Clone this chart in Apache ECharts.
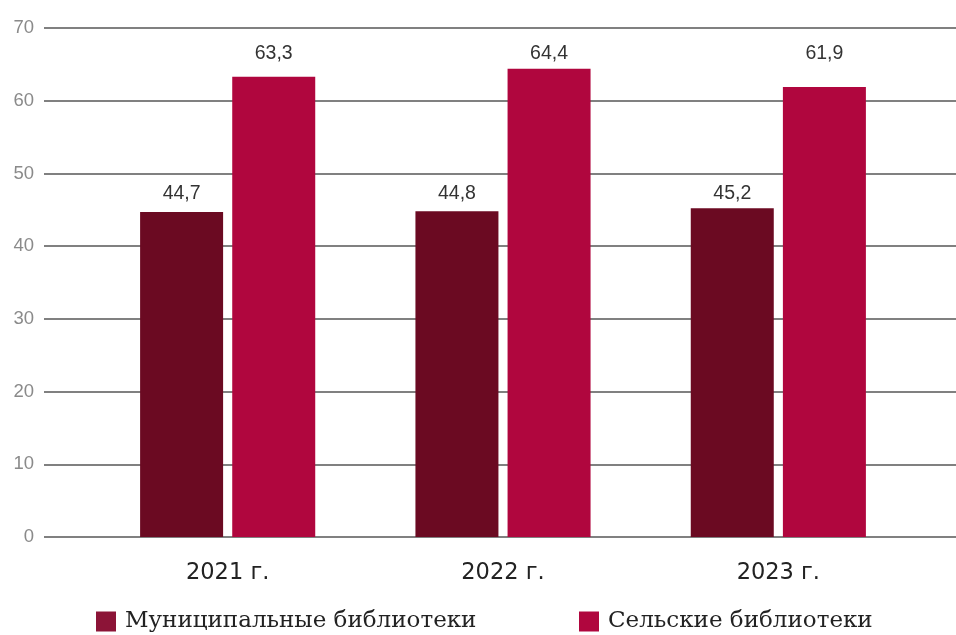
<!DOCTYPE html>
<html><head><meta charset="utf-8">
<script src="https://cdn.jsdelivr.net/npm/echarts@6/dist/echarts.min.js"></script>
<style>html,body{margin:0;padding:0;background:#fff}#c{width:956px;height:635px}</style>
</head><body><div id="c"></div>
<script>
const categories = ['2021 г.', '2022 г.', '2023 г.'];
const seriesNames = ['Муниципальные библиотеки', 'Сельские библиотеки'];
const municipal = [44.7, 44.8, 45.2];
const rural = [63.3, 64.4, 61.9];
const yTicks = [0, 10, 20, 30, 40, 50, 60, 70];

const chart = echarts.init(document.getElementById('c'), null, {renderer: 'canvas'});
const fmt = p => String(p.value).replace('.', ',');
const labelBase = {show: true, position: 'top', distance: 5, formatter: fmt,
  fontFamily: 'Liberation Sans, Arial, sans-serif', fontSize: 19.5, color: '#333'};
const legendText = {fontFamily: 'DejaVu Serif, serif', fontSize: 23, color: '#222', padding: [0, 0, 0, 4]};
chart.setOption({
  animation: false,
  grid: [
    {left: 44, right: 0, top: 28, bottom: 98},
    {left: 90, width: 826, top: 28, bottom: 98}
  ],
  xAxis: [
    {gridIndex: 0, type: 'category', data: categories, show: false},
    {gridIndex: 1, type: 'category', data: categories,
     axisLine: {show: false}, axisTick: {show: false},
     axisLabel: {margin: 25, fontFamily: 'DejaVu Sans, sans-serif', fontSize: 22.5, color: '#222'}}
  ],
  yAxis: [
    {gridIndex: 0, type: 'value', min: yTicks[0], max: yTicks[yTicks.length - 1], interval: 10,
     axisLine: {show: false}, axisTick: {show: false},
     axisLabel: {margin: 10, fontFamily: 'Liberation Sans, Arial, sans-serif', fontSize: 18.5, color: '#8a8a8a'},
     splitLine: {lineStyle: {color: '#808080', width: 2}}},
    {gridIndex: 1, type: 'value', min: yTicks[0], max: yTicks[yTicks.length - 1], interval: 10, show: false,
     splitLine: {show: false}}
  ],
  legend: [
    {data: [{name: seriesNames[0], itemStyle: {color: '#8c1437'}}], left: 96, top: 610, padding: 0,
     itemWidth: 20, itemHeight: 20, icon: 'rect', textStyle: legendText},
    {data: [{name: seriesNames[1], itemStyle: {color: '#b0063e'}}], left: 579, top: 610, padding: 0,
     itemWidth: 20, itemHeight: 20, icon: 'rect', textStyle: legendText}
  ],
  series: [
    {name: seriesNames[0], type: 'bar', xAxisIndex: 1, yAxisIndex: 1, data: municipal,
     barWidth: 83, barGap: '11%', itemStyle: {color: '#6b0a22'}, label: labelBase},
    {name: seriesNames[1], type: 'bar', xAxisIndex: 1, yAxisIndex: 1, data: rural,
     barWidth: 83, barGap: '11%', itemStyle: {color: '#b0063e'}, label: labelBase}
  ]
});
// Align each series' value labels on one line, level with the label of its tallest bar
const px0 = chart.convertToPixel({yAxisIndex: 1}, 0);
const px10 = chart.convertToPixel({yAxisIndex: 1}, 10);
const pxPerUnit = (px0 - px10) / 10;
const aligned = arr => {
  const mx = Math.max(...arr);
  return arr.map(v => ({value: v, label: {distance: 5 + (mx - v) * pxPerUnit}}));
};
chart.setOption({series: [{data: aligned(municipal)}, {data: aligned(rural)}]});
</script></body></html>
